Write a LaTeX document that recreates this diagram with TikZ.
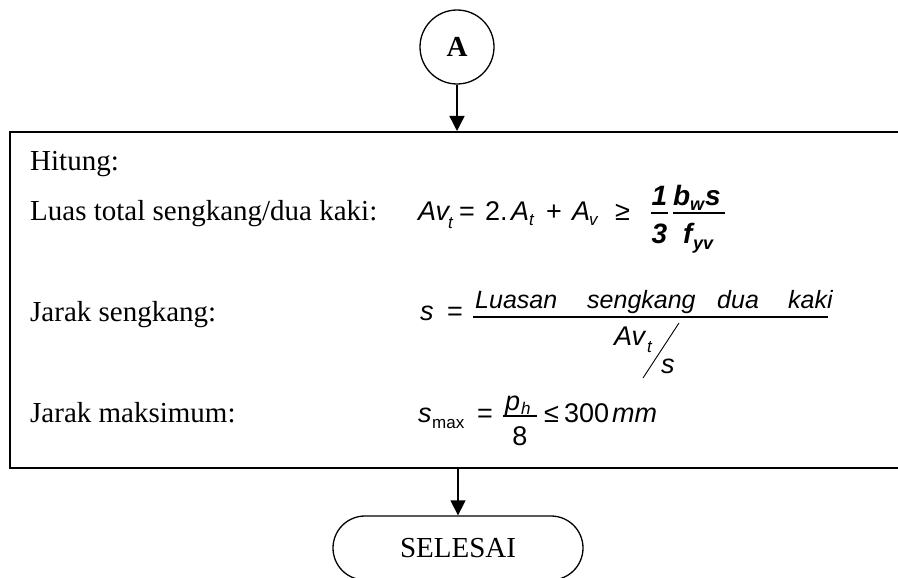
\documentclass[tikz,border=0pt]{standalone}
\usepackage{fontspec}
\setmainfont{Liberation Serif}
\newfontfamily\arial{Liberation Sans}
\usetikzlibrary{arrows.meta,shapes.misc}
\begin{document}
\begin{tikzpicture}[x=1pt,y=-1pt,
  conn/.style={line width=1.4pt,-{Triangle[length=15pt,width=15pt]}},
  txt/.style={font=\fontsize{29}{34}\selectfont, anchor=base west, inner sep=0pt},
  mi/.style={font=\arial\itshape\fontsize{27}{32}\selectfont, anchor=base west, inner sep=0pt},
  mn/.style={font=\arial\itshape\fontsize{25}{30}\selectfont, anchor=base west, inner sep=0pt},
  mu/.style={font=\arial\fontsize{27}{32}\selectfont, anchor=base west, inner sep=0pt},
  muc/.style={mu, anchor=base},
  ms/.style={font=\arial\itshape\fontsize{17}{20}\selectfont, anchor=base west, inner sep=0pt},
  msu/.style={font=\arial\fontsize{17}{20}\selectfont, anchor=base west, inner sep=0pt},
  mb/.style={font=\arial\bfseries\itshape\fontsize{28}{32}\selectfont, anchor=base west, inner sep=0pt},
  mbc/.style={mb, anchor=base},
  mbs/.style={font=\arial\bfseries\itshape\fontsize{18}{21}\selectfont, anchor=base west, inner sep=0pt},
  fbar/.style={line width=1.2pt},
  slash/.style={line width=0.9pt}]
\useasboundingbox (0,0) rectangle (898,578);
\clip (0,0) rectangle (898,578);

% start connector
\node[draw, circle, line width=1.3pt, minimum size=74pt, inner sep=0pt,
      font=\bfseries\fontsize{29}{34}\selectfont] (A) at (457,47) {A};

% process box (right edge runs off the page)
\node[draw, line width=1.6pt, anchor=north west, minimum width=910pt,
      minimum height=336pt, inner sep=0pt] (box) at (9,131) {};

% terminator
\node[draw, rounded rectangle, line width=1.3pt, minimum width=250pt,
      minimum height=64pt, inner sep=0pt,
      font=\fontsize{29}{34}\selectfont] (end) at (458,548) {SELESAI};

\draw[conn] (A.south) -- (A.south |- box.north);
\draw[conn] (end.north |- box.south) -- (end.north);

% labels
\node[txt] (t1) at (30,170) {Hitung:};
\node[txt] (t2) at (30,220) {Luas total sengkang/dua kaki:};
\node[txt] (t3) at (30,321) {Jarak sengkang:};
\node[txt] (t4) at (30,422) {Jarak maksimum:};

% formula 1
\node[mi] (f1A) at (418,220) {Av};
\node[ms] (f1t) at (448,228) {t};
\node[mu] (f1eq) at (459,220) {=};
\node[mu] (f1two) at (485,220) {2.};
\node[mi] (f1A2) at (511,220) {A};
\node[ms] (f1t2) at (529,225) {t};
\node[mu] (f1plus) at (546,220) {+};
\node[mi] (f1A3) at (572,220) {A};
\node[ms] (f1v) at (589,225) {v};
\node[mu] (f1ge) at (615,220) {≥};
\node[mbc] (f1one) at (659.5,205) {1};
\draw[fbar] (651,213) -- (668,213);
\node[mbc] (f1three) at (659.5,243) {3};
\node[mb] (f1b) at (673,205) {b};
\node[mbs] (f1w) at (690,210) {w};
\node[mb] (f1s) at (705,205) {s};
\draw[fbar] (673,213) -- (725,213);
\node[mb] (f1f) at (683,243) {f};
\node[mbs] (f1yv) at (693,249) {yv};

% formula 2
\node[mi] (f2s) at (420,320) {s};
\node[mu] (f2eq) at (447,320) {=};
\draw[fbar] (473,317) -- (828,317);
\node[mn] (f2n1) at (475,308) {Luasan};
\node[mn] (f2n2) at (587,308) {sengkang};
\node[mn] (f2n3) at (717,308) {dua};
\node[mn] (f2n4) at (788,308) {kaki};
\node[mi] (f2Av) at (614,345) {Av};
\node[ms] (f2t) at (647,352) {t};
\draw[slash] (643,378) -- (679,323);
\node[mi] (f2s2) at (661,373) {s};

% formula 3
\node[mi] (f3s) at (418,422) {s};
\node[msu] (f3max) at (432,428) {max};
\node[mu] (f3eq) at (477,422) {=};
\draw[fbar] (503,416) -- (537,416);
\node[mi] (f3p) at (505,410) {p};
\node[ms] (f3h) at (521,414) {h};
\node[muc] (f3eight) at (520,445) {8};
\node[mu] (f3le) at (544,422) {≤};
\node[mu] (f3num) at (564,422) {300};
\node[mi] (f3mm) at (612,422) {mm};
\end{tikzpicture}
\end{document}
